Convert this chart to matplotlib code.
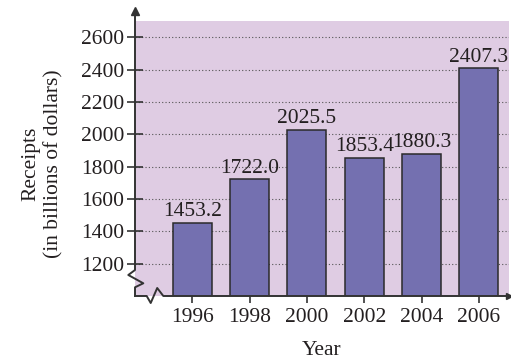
import matplotlib.pyplot as plt

years = [1996, 1998, 2000, 2002, 2004, 2006]
receipts = [1453.2, 1722.0, 2025.5, 1853.4, 1880.3, 2407.3]
labels = ["1453.2", "1722.0", "2025.5", "1853.4", "1880.3", "2407.3"]
yticks = [1200, 1400, 1600, 1800, 2000, 2200, 2400, 2600]

plt.rcParams['font.family'] = ['Liberation Serif', 'DejaVu Serif']
txt = "#231f20"
line = "#333333"
fs = 15.5

fig = plt.figure(figsize=(5.11, 3.61), dpi=100)
ax = fig.add_axes([135 / 511, 65 / 361, 374 / 511, 275 / 361])
ax.set_facecolor("#dfcce3")

ax.set_xlim(1994, 2007.05)
ax.set_ylim(1000, 2700)

ax.bar(years, receipts, width=1.36, color="#7470b0", edgecolor="#2a2a2a",
       linewidth=1.1, zorder=3)
for x, y, s in zip(years, receipts, labels):
    ax.text(x, y + 10, s, ha="center", va="bottom", fontsize=fs, color=txt, zorder=4)

ax.set_yticks(yticks)
ax.set_xticks(years)
ax.tick_params(axis="y", direction="inout", length=11, width=1.2, color=line,
               labelsize=fs, labelcolor=txt, pad=2)
ax.tick_params(axis="x", direction="out", length=5, width=1.2, color=line,
               labelsize=fs, labelcolor=txt, pad=4)
ax.yaxis.grid(True, linestyle=(0, (1, 2)), color="#555555", linewidth=0.8, zorder=1)

for s in ax.spines.values():
    s.set_visible(False)

# axes drawn by hand with break marks and arrows
kw = dict(transform=ax.transAxes, clip_on=False, color=line, linewidth=1.4, zorder=5)
ax.plot([0, 0, -0.0179, 0.0222, 0, 0], [1.035, 0.0945, 0.0764, 0.0462, 0.0316, 0], **kw)
ax.plot([0, 0.0313, 0.0420, 0.0594, 0.0757, 1.0], [0, 0, -0.0255, 0.0291, 0, 0], **kw)
ax.plot([0], [1.035], marker="^", markersize=6, color=line, transform=ax.transAxes,
        clip_on=False, zorder=6)
ax.plot([1.0], [0], marker=">", markersize=4, color=line, transform=ax.transAxes,
        clip_on=False, zorder=6)

ax.set_xlabel("Year", fontsize=fs, color=txt, labelpad=10)
ax.set_ylabel("Receipts\n(in billions of dollars)", fontsize=fs, color=txt,
              linespacing=1.3)
ax.yaxis.set_label_coords(-0.19, 0.48)

fig.savefig("out.png", dpi=100, facecolor="white")
